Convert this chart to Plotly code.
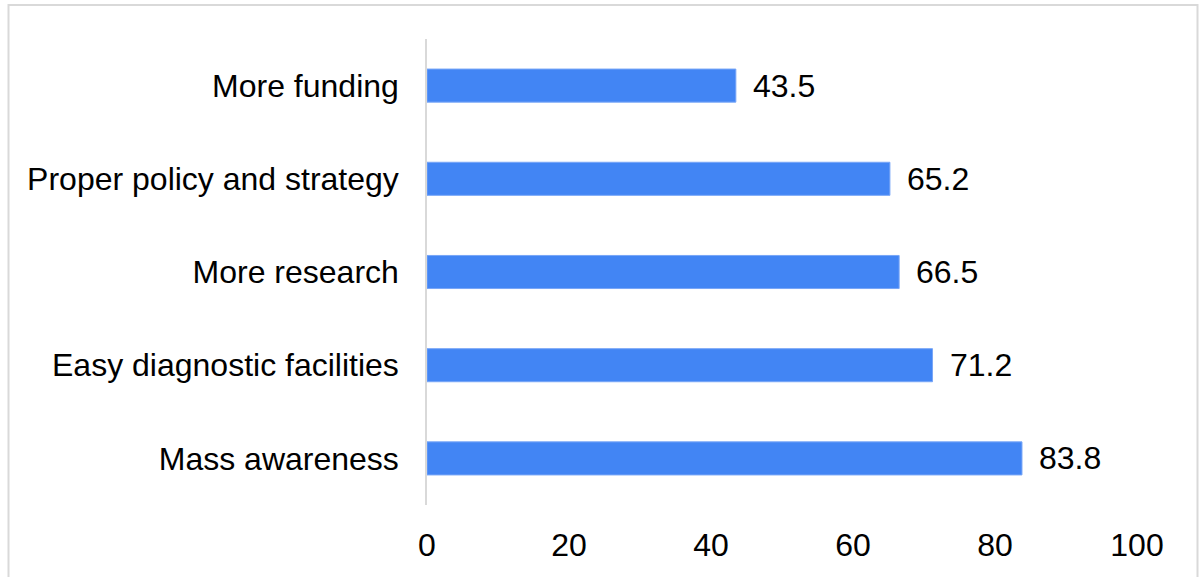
import plotly.graph_objects as go

# Survey responses (%), drawn top-to-bottom
categories = [
    "Mass awareness",
    "Easy diagnostic facilities",
    "More research",
    "Proper policy and strategy",
    "More funding",
]
values = [83.8, 71.2, 66.5, 65.2, 43.5]
x_ticks = [0, 20, 40, 60, 80, 100]

W, H = 1202, 577
M_L, M_R, M_T, M_B = 427, 65, 39, 72
PW = W - M_L - M_R
PH = H - M_T - M_B

FONT = "Liberation Sans, Arial, sans-serif"
FS = 32
BLUE = "#4285F4"

fig = go.Figure(
    go.Bar(
        y=categories,
        x=values,
        orientation="h",
        marker=dict(color=BLUE, line=dict(color="#78a6f7", width=1)),
        width=0.355,
        hoverinfo="x+y",
    )
)

# value labels just past each bar end
for cat, v in zip(categories, values):
    fig.add_annotation(
        x=v, y=cat, xref="x", yref="y",
        text=f"{v:.1f}", showarrow=False,
        xanchor="left", yanchor="middle", xshift=15,
        font=dict(family=FONT, size=FS, color="#000000"),
    )

# thin light frame around the chart
def px_to_paper_x(px):
    return (px - M_L) / PW

def px_to_paper_y(py):
    return (H - M_B - py) / PH

fig.add_shape(
    type="rect", xref="paper", yref="paper",
    x0=px_to_paper_x(8.5), x1=px_to_paper_x(1197.5),
    y0=px_to_paper_y(590), y1=px_to_paper_y(5),
    line=dict(color="#d9d9d9", width=2), fillcolor="rgba(0,0,0,0)",
    layer="below",
)

fig.update_layout(
    width=W, height=H,
    margin=dict(l=M_L, r=M_R, t=M_T, b=M_B, pad=0),
    paper_bgcolor="#ffffff",
    plot_bgcolor="#ffffff",
    showlegend=False,
    font=dict(family=FONT, size=FS, color="#000000"),
    xaxis=dict(
        range=[0, 100],
        tickvals=x_ticks,
        ticktext=[str(t) for t in x_ticks],
        showgrid=False,
        zeroline=False,
        showline=False,
        ticks="",
        ticklabelstandoff=18,
        tickfont=dict(family=FONT, size=FS, color="#000000"),
        fixedrange=True,
    ),
    yaxis=dict(
        categoryorder="array",
        categoryarray=categories,
        showgrid=False,
        zeroline=False,
        showline=True,
        linecolor="#d9d9d9",
        linewidth=1.5,
        ticks="",
        ticklabelstandoff=20,
        tickfont=dict(family=FONT, size=FS, color="#000000"),
        fixedrange=True,
    ),
)

fig.write_html("out.html")
